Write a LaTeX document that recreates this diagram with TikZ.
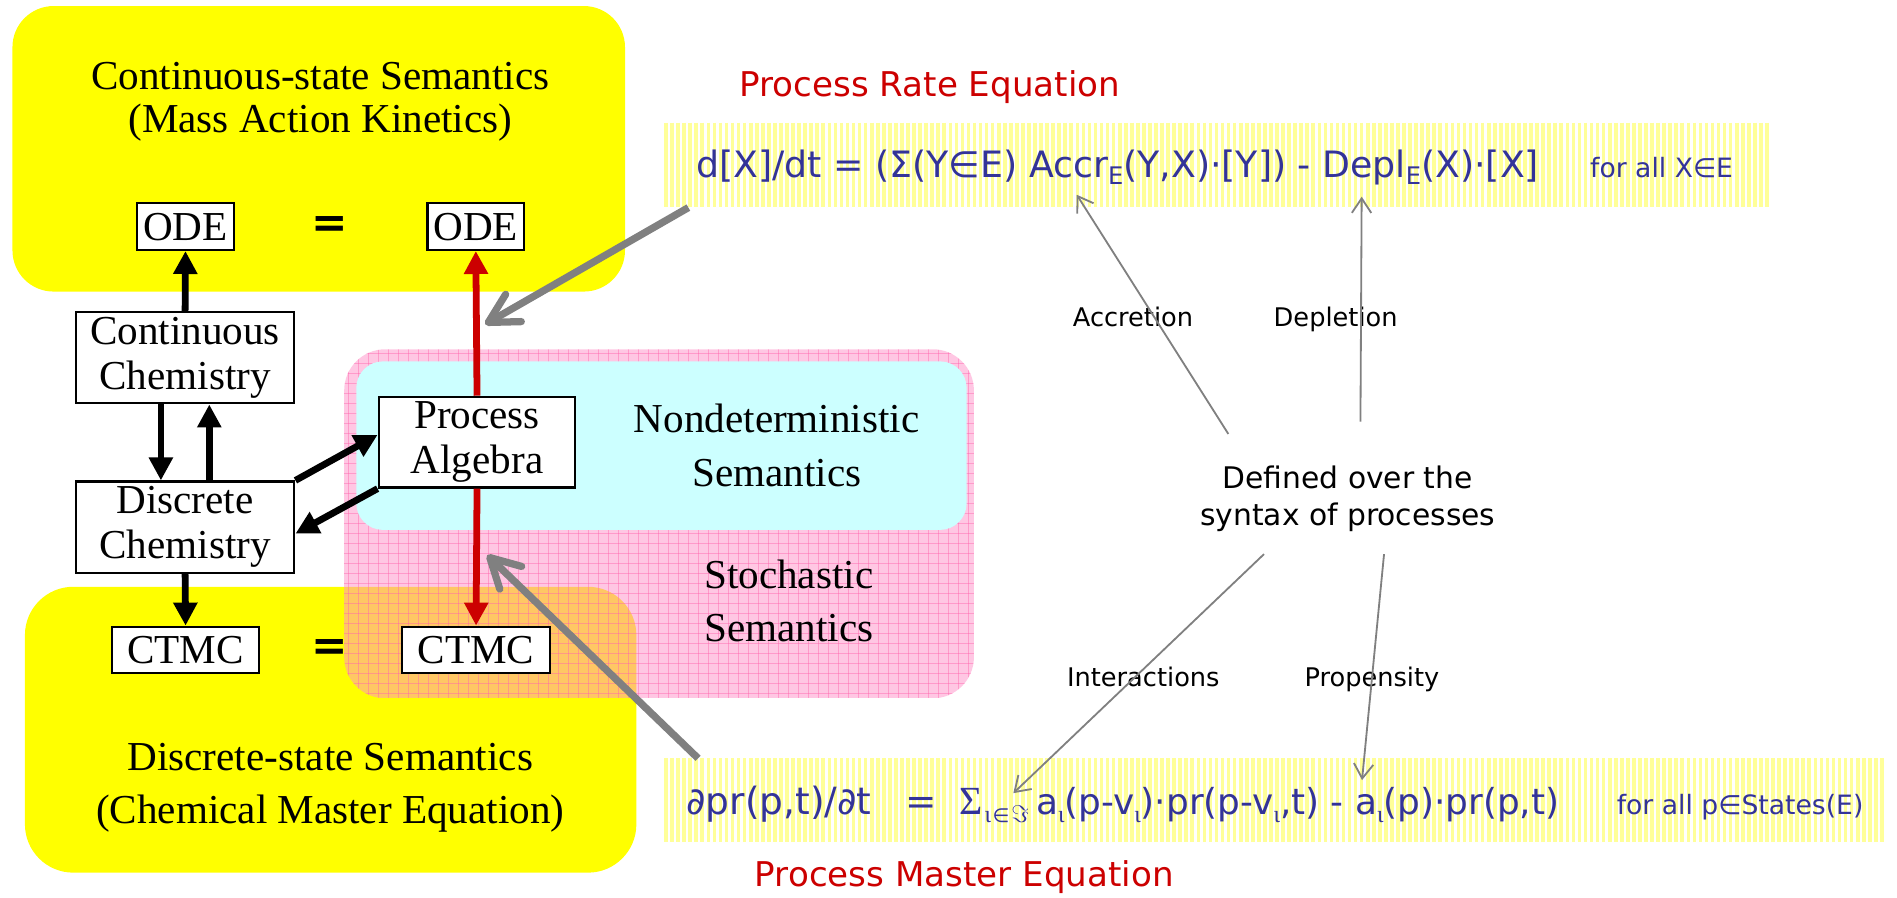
\documentclass[tikz,border=0pt]{standalone}
\usepackage{fontspec}
\setmainfont{Liberation Serif}
\newfontfamily\cs{DejaVu Sans}
\newfontfamily\lsr{Liberation Serif}
\usetikzlibrary{arrows.meta}
\definecolor{yel}{RGB}{255,255,0}
\definecolor{cyanc}{RGB}{204,255,255}
\definecolor{pinkc}{RGB}{255,145,201}
\definecolor{gridc}{RGB}{255,100,172}
\definecolor{stripec}{RGB}{255,255,153}
\definecolor{eqblue}{RGB}{51,51,153}
\definecolor{redc}{RGB}{204,0,0}
\definecolor{grayc}{RGB}{128,128,128}
\newcommand{\sbs}[1]{\raisebox{-0.35ex}{\fontsize{10}{10}\selectfont #1}}
\newcommand{\iot}{\raisebox{-0.4ex}{\lsr\fontsize{10}{10}\selectfont ι}}
\newcommand{\sumsub}{{\lsr\fontsize{16.5}{18}\selectfont Σ}\kern0.6pt\raisebox{-3.5pt}{{\lsr\fontsize{10}{10}\selectfont ι}\kern0.6pt{\cs\fontsize{8}{8}\selectfont ∈}\kern0.8pt{\fontsize{10}{10}\selectfont$\Im$}}}
\begin{document}
\begin{tikzpicture}[x=0.5pt,y=-0.5pt,
  box/.style={draw=black,line width=0.9pt,fill=white,inner sep=0pt,align=center,font=\fontsize{17}{18.5}\selectfont},
  semlbl/.style={align=center,inner sep=0pt},
  blk/.style={draw=black,line width=2.8pt,-{Triangle[length=9.5pt,width=9.5pt]}},
  redarr/.style={blk,draw=redc,-{Triangle[length=9.5pt,width=9.5pt,fill=redc]}},
  biggray/.style={draw=grayc,line width=3pt,-{Straight Barb[length=12pt,width=13pt,line cap=round,line join=round]}},
  thingray/.style={draw=grayc,line width=0.75pt,-{Straight Barb[length=6pt,width=8pt]}},
  note/.style={font=\cs\fontsize{10.6}{12}\selectfont,inner sep=0pt,anchor=base},
  redtitle/.style={font=\cs\fontsize{14.1}{16}\selectfont,text=redc,inner sep=0pt,anchor=base},
  eqtext/.style={font=\cs\fontsize{15}{18}\selectfont,text=eqblue,inner sep=0pt,anchor=base west},
  eqsmall/.style={font=\cs\fontsize{11}{13}\selectfont,text=eqblue,inner sep=0pt,anchor=base west},
  eqsign/.style={font=\cs\bfseries\fontsize{18}{18}\selectfont,inner sep=0pt}
]
\useasboundingbox (0,0) rectangle (1568,742);
\fill[white] (0,0) rectangle (1568,742);

% yellow regions
\fill[yel,rounded corners=17pt] (10.3,5) rectangle (516.6,241);
\fill[yel,rounded corners=20pt] (20.6,485) rectangle (526,721.3);

% pink stochastic region with grid
\begin{scope}
  \clip[rounded corners=17pt] (284.5,288.7) rectangle (805,577.2);
  \fill[pinkc,fill opacity=0.5] (284.5,288.7) rectangle (805,577.2);
  \foreach \x in {288,296.27,...,805} \draw[gridc,draw opacity=0.45,line width=0.4pt] (\x,288.7) -- (\x,577.2);
  \foreach \y in {292,300.27,...,577} \draw[gridc,draw opacity=0.45,line width=0.4pt] (284.5,\y) -- (805,\y);
\end{scope}
% cyan nondeterministic region
\fill[cyanc,rounded corners=11pt] (294.5,298.7) rectangle (799,438);

% striped equation bands
\node[inner sep=0pt,minimum width=456.5pt,minimum height=34.7pt,anchor=north west] (band1) at (549,101.4) {};
\node[inner sep=0pt,minimum width=505.5pt,minimum height=34.5pt,anchor=north west] (band2) at (549,626.8) {};
\foreach \x in {550.5,555.5,...,1461} \draw[stripec,line width=1.5pt] (\x,101.4) -- (\x,170.8);
\foreach \x in {550.5,555.5,...,1559} \draw[stripec,line width=1.5pt] (\x,626.8) -- (\x,695.8);

% region labels
\node[semlbl,font=\fontsize{17}{18}\selectfont] (contsem) at (264.8,84) {Continuous-state Semantics\\(Mass Action Kinetics)};
\node[semlbl,font=\fontsize{17}{22}\selectfont] (discsem) at (273,651) {Discrete-state Semantics\\(Chemical Master Equation)};
\node[semlbl,font=\fontsize{17}{22.5}\selectfont] (nondet) at (642,368) {Nondeterministic\\Semantics};
\node[semlbl,font=\fontsize{17}{22}\selectfont] (stoch) at (652,497) {Stochastic\\Semantics};

% boxes
\node[box,minimum width=40pt,minimum height=19.3pt] (odeL) at (153.3,187.3) {ODE};
\node[box,minimum width=40pt,minimum height=19.3pt] (odeR) at (393.3,187.3) {ODE};
\node[box,minimum width=90.3pt,minimum height=37.7pt] (cc) at (153,295.7) {Continuous\\Chemistry};
\node[box,minimum width=90.3pt,minimum height=37.7pt] (dc) at (153,435.7) {Discrete\\Chemistry};
\node[box,minimum width=81.3pt,minimum height=37.5pt] (pa) at (394.3,365.5) {Process\\Algebra};
\node[box,minimum width=61pt,minimum height=19pt] (ctmcL) at (153.4,537) {CTMC};
\node[box,minimum width=61pt,minimum height=19pt] (ctmcR) at (393.5,537) {CTMC};
\node[eqsign] (eqA) at (272.5,187.4) {=};
\node[eqsign] (eqB) at (272.5,537) {=};

% black arrows
\draw[blk] (cc.north) -- (odeL.south);
\draw[blk] ([xshift=-10pt]cc.south) -- ([xshift=-10pt]dc.north);
\draw[blk] ([xshift=10pt]dc.north) -- ([xshift=10pt]cc.south);
\draw[blk] (dc.south) -- (ctmcL.north);
\draw[blk] (dc.north east) -- ([yshift=3pt]pa.west);
\draw[blk] (pa.south west) -- ([yshift=-2.7pt]dc.east);
% red arrows
\draw[redarr] (pa.north) -- (odeR.south);
\draw[redarr] (pa.south) -- (ctmcR.north);

% titles
\node[redtitle] (prt) at (768.5,80) {Process Rate Equation};
\node[redtitle] (pme) at (797,733) {Process Master Equation};

% equations
\node[eqtext] (eqtop) at (575,146.6) {d[X]/dt = (Σ(Y∈E) Accr\sbs{E}(Y,X)·[Y]) - Depl\sbs{E}(X)·[X]};
\node[eqsmall] (foralltop) at (1314,146.6) {for all X∈E};
\node[eqtext,font=\cs\fontsize{15.5}{18}\selectfont] (eqbot) at (567,673) {\makebox[90.5pt][l]{∂pr(p,t)/∂t}\makebox[22.5pt][l]{=}\makebox[31.5pt][l]{\sumsub}\makebox[240pt][l]{\fontsize{14.8}{18}\selectfont a\iot(p-v\iot)·pr(p-v\iot,t) - a\iot(p)·pr(p,t)}{\fontsize{11}{13}\selectfont for all p∈States(E)}};

% syntax note and labels
\node[font=\cs\fontsize{12.3}{15.2}\selectfont,align=center,inner sep=0pt] (def) at (1114,412.4) {Defined over the\\syntax of processes};
\node[note] (accr) at (936.5,270) {Accretion};
\node[note] (depl) at (1104,270) {Depletion};
\node[note] (inter) at (945,567.6) {Interactions};
\node[note] (prop) at (1134,567.6) {Propensity};

% thin arrows
\coordinate (a1s) at (1015.3,358.7); \coordinate (a1t) at (890,161);
\coordinate (a2s) at (1124.5,348.5); \coordinate (a2t) at (1125.5,162.6);
\coordinate (a3s) at (1044.8,458);   \coordinate (a3t) at (837.6,655.6);
\coordinate (a4s) at (1144,458);     \coordinate (a4t) at (1125.8,644.8);
\draw[thingray] (a1s) -- (a1t);
\draw[thingray] (a2s) -- (a2t);
\draw[thingray] (a3s) -- (a3t);
\draw[thingray] (a4s) -- (a4t);

% thick gray arrows
\coordinate (g1s) at ([xshift=10pt]band1.south west);
\coordinate (g1t) at (401,268);
\coordinate (g2s) at ([xshift=14pt]band2.north west);
\coordinate (g2t) at (402.7,458.8);
\draw[biggray] (g1s) -- (g1t);
\draw[biggray] (g2s) -- (g2t);
\end{tikzpicture}
\end{document}
